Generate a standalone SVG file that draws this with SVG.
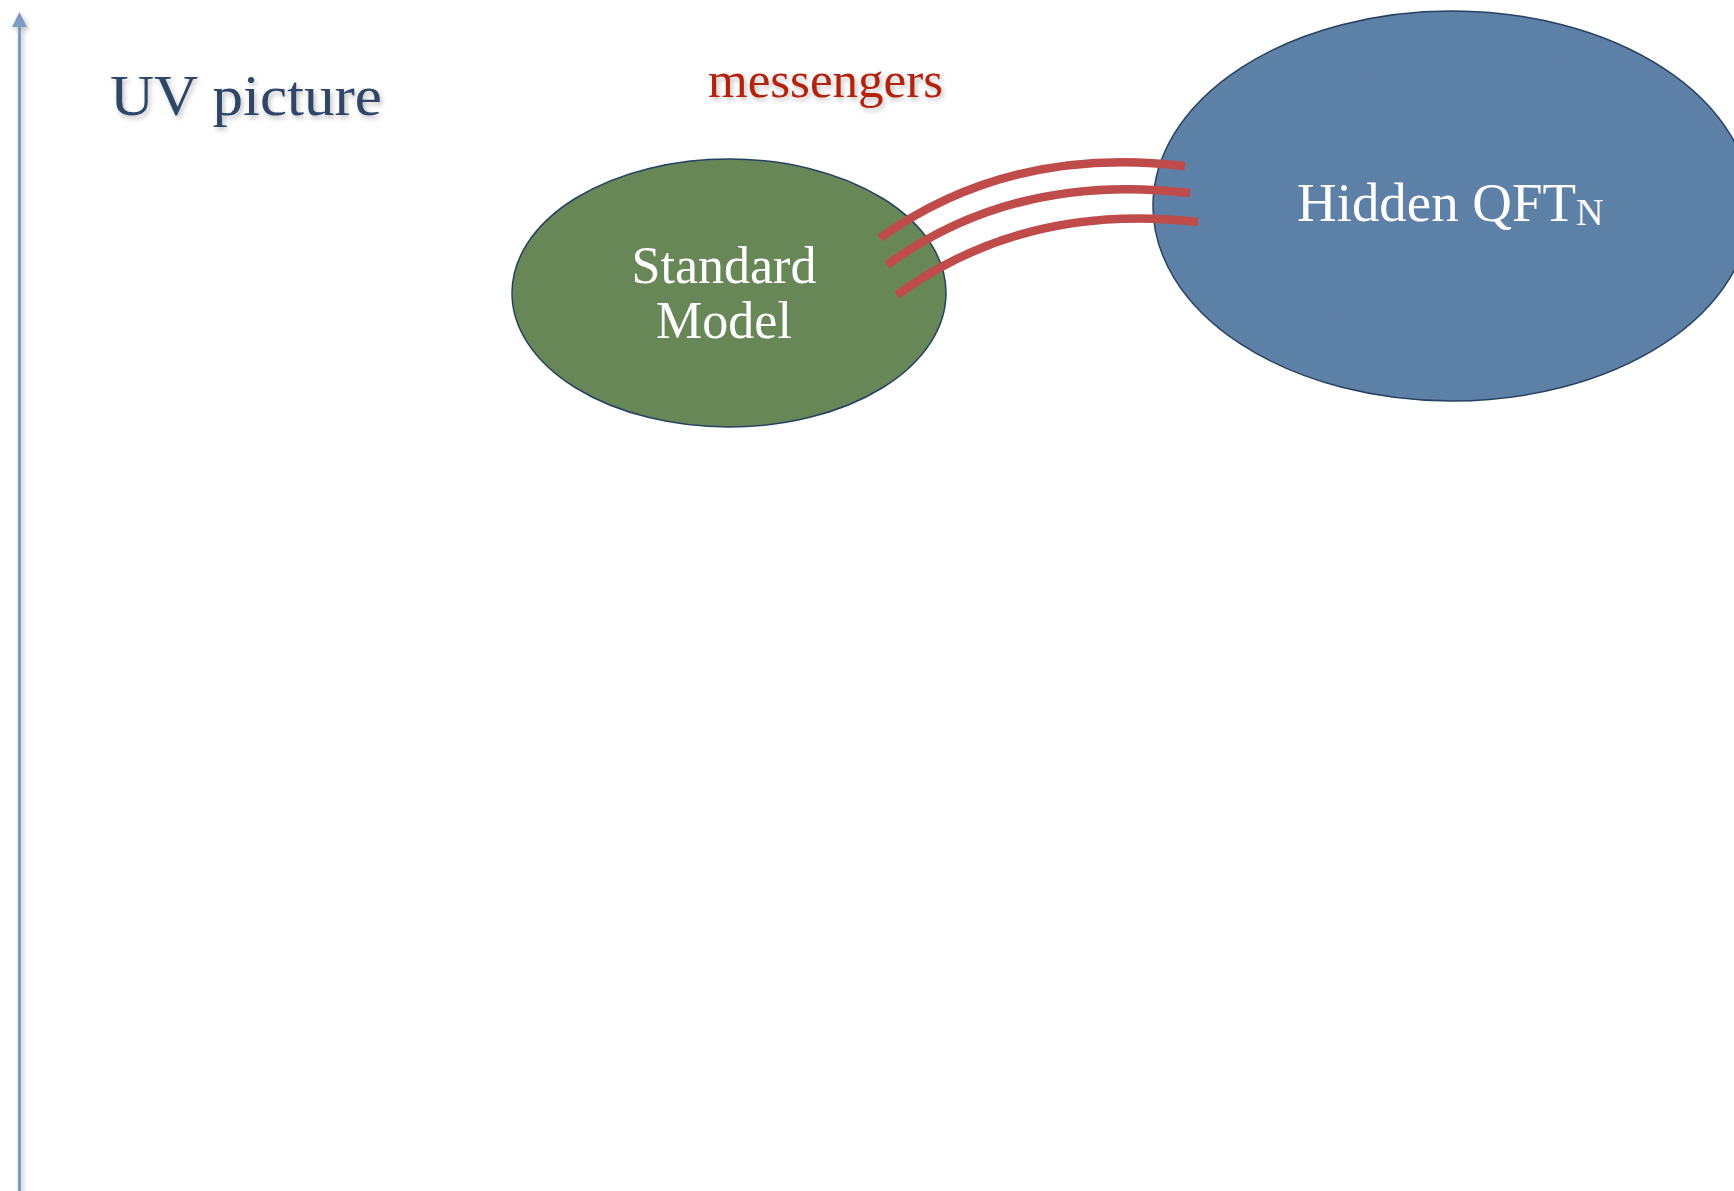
<svg xmlns="http://www.w3.org/2000/svg" width="1734" height="1191" viewBox="0 0 1734 1191">
<defs>
<filter id="shadow" x="-10%" y="-30%" width="130%" height="170%">
<feDropShadow dx="2" dy="3" stdDeviation="2.5" flood-color="#000" flood-opacity="0.25"/>
</filter>
<filter id="grain" x="-5%" y="-5%" width="110%" height="110%">
<feTurbulence type="fractalNoise" baseFrequency="0.9" numOctaves="2" seed="3" result="n"/>
<feColorMatrix in="n" type="matrix" values="0 0 0 0 0  0 0 0 0 0  0 0 0 0 0  0 0 0 0.08 0" result="m"/>
<feComposite in="m" in2="SourceGraphic" operator="in" result="g"/>
<feMerge><feMergeNode in="SourceGraphic"/><feMergeNode in="g"/></feMerge>
</filter>
</defs>
<style>
.serif{font-family:"Liberation Serif","DejaVu Serif",serif;}
.node{stroke:#2c4466;stroke-width:1.5;}
.label{fill:#ffffff;font-size:52px;text-anchor:middle;}
.msg{fill:none;stroke:#bf4b4a;stroke-width:8.5;}
</style>
<rect width="1734" height="1191" fill="#ffffff"/>
<g id="axis" filter="url(#shadow)">
<line x1="19.5" y1="26" x2="19.5" y2="1191" stroke="#7c9bc4" stroke-width="3"/>
<polygon points="19.5,12 27,27 12,27" fill="#7c9bc4"/>
</g>
<text id="title" class="serif" x="110" y="115" font-size="58" fill="#2d4767" filter="url(#shadow)" textLength="272" lengthAdjust="spacingAndGlyphs">UV picture</text>
<text id="messengers-label" class="serif" x="708" y="97" font-size="51" fill="#b3200f" filter="url(#shadow)" textLength="235" lengthAdjust="spacingAndGlyphs">messengers</text>
<g id="standard-model">
<ellipse class="node" cx="729" cy="293" rx="217" ry="134" fill="#6a8a5a" filter="url(#grain)"/>
<text class="serif label" x="724" y="283">Standard</text>
<text class="serif label" x="724" y="338">Model</text>
</g>
<g id="hidden-qft">
<ellipse class="node" cx="1452" cy="206" rx="299" ry="195" fill="#6083aa" filter="url(#grain)"/>
<text class="serif" x="1297" y="221" font-size="54" fill="#ffffff"><tspan textLength="279" lengthAdjust="spacingAndGlyphs">Hidden QFT</tspan><tspan font-size="38" dy="4">N</tspan></text>
</g>
<g id="connectors">
<path class="msg" d="M880,238 Q1010,145 1185,166"/>
<path class="msg" d="M887,265 Q1015,172 1190,193"/>
<path class="msg" d="M897,295 Q1025,202 1198,222"/>
</g>
</svg>
